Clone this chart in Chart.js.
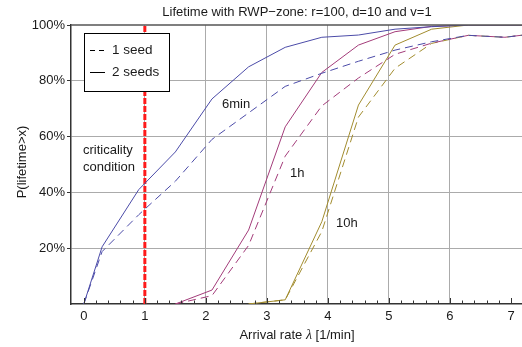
<!DOCTYPE html>
<html>
<head>
<meta charset="utf-8">
<script src="https://cdn.jsdelivr.net/npm/chart.js@4"></script>
<style>
html,body{margin:0;padding:0;background:#fff;}
#wrap{width:522px;height:347px;position:relative;}
</style>
</head>
<body>
<div id="wrap"><canvas id="c" width="522" height="347"></canvas></div>
<script>
// ---- data ----
const rateX = [0, 0.3, 0.9, 1.5, 2.1, 2.7, 3.3, 3.9, 4.5, 5.1, 5.7, 6.3, 6.9, 7.2];

const min6_2seeds = [0, 20.5, 41, 54.5, 73.5, 85, 92, 95.6, 96.4, 98.5, 99.4, 100, 100, 100];
const min6_1seed  = [0, 18.8, 32, 44, 59, 68.5, 78, 82.7, 87, 91, 94, 96.3, 95.6, 96.4];

const h1_2seeds = [null, null, null, 0, 5, 26.5, 63.5, 83, 92.8, 97.6, 99.5, 100, 100, 100];
const h1_1seed  = [null, null, null, 0, 3, 21, 53, 71, 81, 89.5, 93.5, 96.3, 95.6, 96.4];

const h10_2seeds = [null, null, null, null, null, 0, 1.5, 29.5, 71.3, 92.8, 98.5, 100, 100, 100];
const h10_1seed  = [null, null, null, null, null, 0, 1.5, 26, 67, 84.5, 93.4, 96.3, 95.6, 96.4];

const criticalityRate = 1;
const xTicks = [0, 1, 2, 3, 4, 5, 6, 7];
const yTicks = [20, 40, 60, 80, 100];
const legendLabels = ['1 seed', '2 seeds'];
const curveLabels = ['6min', '1h', '10h'];

// ---- build ----
function pts(ys){
  const out = [];
  rateX.forEach((x,i)=>{ if(ys[i]!==null) out.push({x:x, y:ys[i]}); });
  return out;
}
const BLUE = '#4b4ba8', PURPLE = '#a33c7a', OLIVE = '#a28c2e';
const DASH = [8,5];
function ds(label, ys, color, dashed){
  return {label, data: pts(ys), borderColor: color, borderWidth: 1,
    borderDash: dashed ? DASH : [], pointRadius: 0, tension: 0, fill: false};
}

const FONT = "'Liberation Sans', Arial, sans-serif";
const TXT = '#1a1a1a';

const decor = {
  id: 'decor',
  afterDatasetsDraw(chart){
    const {ctx, chartArea:a, scales:{x, y}} = chart;
    ctx.save();
    // top frame
    ctx.strokeStyle = '#555'; ctx.lineWidth = 1.5;
    ctx.beginPath(); ctx.moveTo(a.left, a.top); ctx.lineTo(a.right, a.top); ctx.stroke();
    // x ticks (inward) major + minor
    ctx.strokeStyle = '#333'; ctx.lineWidth = 1;
    for(let k=0;k<=36;k++){
      const v = k*0.2;
      const px = Math.round(x.getPixelForValue(v))+0.5;
      if(px < a.left || px > a.right) continue;
      const len = (k%5===0) ? 6 : 3.5;
      ctx.beginPath(); ctx.moveTo(px, a.bottom); ctx.lineTo(px, a.bottom-len); ctx.stroke();
    }
    // legend box
    ctx.fillStyle = '#fff'; ctx.strokeStyle = '#000'; ctx.lineWidth = 1;
    ctx.fillRect(84.5, 33.5, 85, 58); ctx.strokeRect(84.5, 33.5, 85, 58);
    ctx.beginPath(); ctx.setLineDash([5,4]); ctx.moveTo(90, 50.5); ctx.lineTo(105, 50.5); ctx.stroke();
    ctx.setLineDash([]);
    ctx.beginPath(); ctx.moveTo(90, 72.5); ctx.lineTo(105, 72.5); ctx.stroke();
    ctx.fillStyle = TXT; ctx.font = '13.5px ' + FONT; ctx.textBaseline = 'middle'; ctx.textAlign = 'left';
    ctx.fillText(legendLabels[0], 112, 50);
    ctx.fillText(legendLabels[1], 112, 72);
    // annotations
    ctx.font = '13px ' + FONT;
    ctx.fillText(curveLabels[0], 222, 104);
    ctx.fillText(curveLabels[1], 290, 173);
    ctx.fillText(curveLabels[2], 336, 223);
    ctx.fillText('criticality', 83, 150);
    ctx.fillText('condition', 83, 167);
    ctx.restore();
  },
  afterDraw(chart){
    const {ctx} = chart;
    ctx.save();
    ctx.fillStyle = TXT; ctx.textBaseline = 'middle';
    // title
    ctx.font = '13px ' + FONT; ctx.textAlign = 'center';
    ctx.fillText('Lifetime with RWP\u2212zone: r=100, d=10 and v=1', 297, 12);
    // x title with italic lambda
    const p1 = 'Arrival rate ', lam = '\u03bb', p2 = ' [1/min]';
    ctx.font = '13px ' + FONT; const w1 = ctx.measureText(p1).width, w3 = ctx.measureText(p2).width;
    ctx.font = 'italic 14px "Liberation Serif", serif'; const w2 = ctx.measureText(lam).width;
    let sx = 297 - (w1+w2+w3)/2;
    ctx.textAlign = 'left';
    ctx.font = '13px ' + FONT; ctx.fillText(p1, sx, 335); sx += w1;
    ctx.font = 'italic 14px "Liberation Serif", serif'; ctx.fillText(lam, sx, 335); sx += w2;
    ctx.font = '13px ' + FONT; ctx.fillText(p2, sx, 335);
    // y title
    ctx.translate(22, 162); ctx.rotate(-Math.PI/2);
    ctx.textAlign = 'center'; ctx.font = '13px ' + FONT;
    ctx.fillText('P(lifetime>x)', 0, 0);
    ctx.restore();
  }
};

new Chart(document.getElementById('c'), {
  type: 'line',
  data: {
    datasets: [
      ds('6min 1 seed', min6_1seed, BLUE, true),
      ds('1h 1 seed', h1_1seed, PURPLE, true),
      ds('10h 1 seed', h10_1seed, OLIVE, true),
      ds('6min 2 seeds', min6_2seeds, BLUE, false),
      ds('1h 2 seeds', h1_2seeds, PURPLE, false),
      ds('10h 2 seeds', h10_2seeds, OLIVE, false),
      {label:'criticality', data:[{x:criticalityRate,y:0},{x:criticalityRate,y:100}],
       borderColor:'#ff1a1a', borderWidth:3, borderDash:[6,2], pointRadius:0, tension:0}
    ]
  },
  options: {
    responsive: false, animation: false,
    layout: {padding: {top: 25, right: 0, left: 0, bottom: 0}},
    plugins: {legend: {display:false}, title:{display:false}, tooltip:{enabled:false}},
    scales: {
      x: {
        type: 'linear', min: -0.21, max: 7.18,
        afterFit(s){ s.height = 43; },
        afterBuildTicks(s){ s.ticks = xTicks.map(v=>({value:v})); },
        ticks: {color: TXT, font:{family: FONT, size: 13}, padding: 5, maxRotation: 0,
                callback: v => String(v)},
        grid: {drawTicks: false,
               color: c => (c.tick && c.tick.value>=1 && c.tick.value<=6) ? '#ababab' : 'rgba(0,0,0,0)',
               lineWidth: 1},
        border: {color:'#333', width: 1.5}
      },
      y: {
        min: 0, max: 100,
        afterFit(s){ s.width = 71; },
        afterBuildTicks(s){ s.ticks = [0].concat(yTicks).map(v=>({value:v})); },
        ticks: {color: TXT, font:{family: FONT, size: 13}, padding: 2,
                callback: v => v===0 ? '' : v + '%'},
        grid: {tickLength: 4, tickColor: c => (c.tick && c.tick.value===0) ? 'rgba(0,0,0,0)' : '#333',
               color: c => (c.tick && c.tick.value>0 && c.tick.value<100) ? '#ababab' : 'rgba(0,0,0,0)',
               lineWidth: 1},
        border: {color:'#333', width: 1.5}
      }
    }
  },
  plugins: [decor]
});
</script>
</body>
</html>
